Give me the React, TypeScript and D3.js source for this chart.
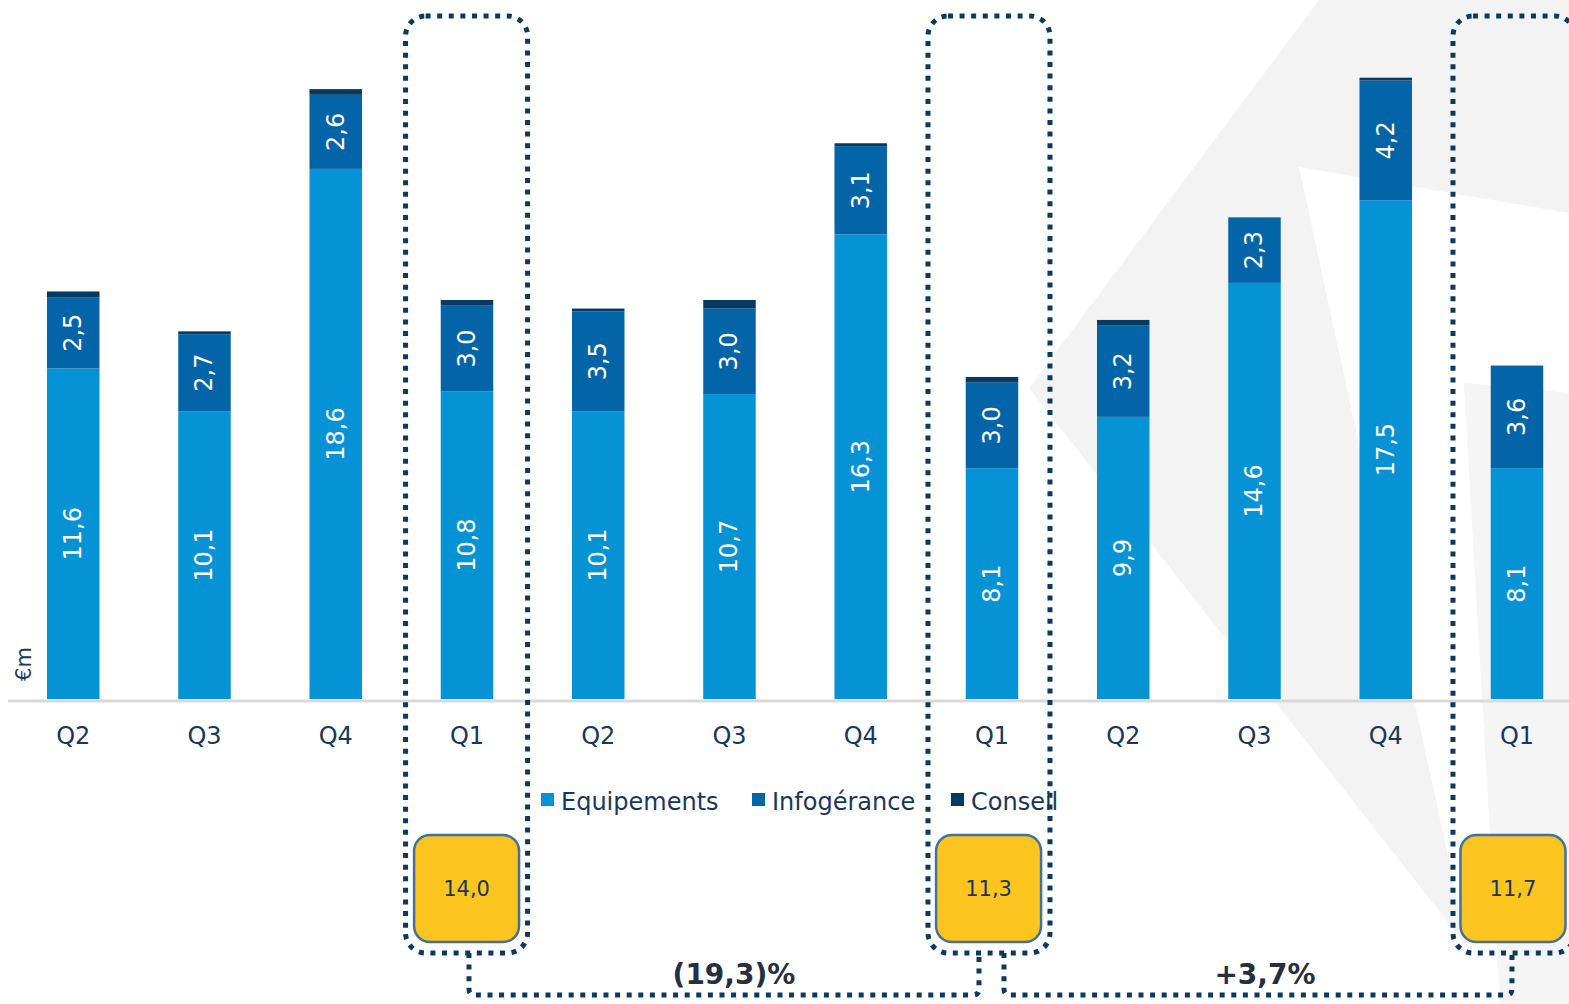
import React from "react";
import * as d3 from "d3";

const quarters = ["Q2", "Q3", "Q4", "Q1", "Q2", "Q3", "Q4", "Q1", "Q2", "Q3", "Q4", "Q1"];
const equipements = [11.6, 10.1, 18.6, 10.8, 10.1, 10.7, 16.3, 8.1, 9.9, 14.6, 17.5, 8.1];
const infogerance = [2.5, 2.7, 2.6, 3.0, 3.5, 3.0, 3.1, 3.0, 3.2, 2.3, 4.2, 3.6];
const conseil = [0.2, 0.1, 0.2, 0.2, 0.1, 0.3, 0.1, 0.2, 0.2, 0.0, 0.1, 0.0];
const seriesNames = ["Equipements", "Infogérance", "Conseil"];
const highlightIdx = [3, 7, 11];
const highlightTotals = [14.0, 11.3, 11.7];
const growthLabels = ["(19,3)%", "+3,7%"];

const W = 1569;
const H = 1004;
const colors = ["#0693d5", "#0364a8", "#063a62"];
const navy = "#17375e";
const dotColor = "#0b3a5e";
const font = "'DejaVu Sans', Verdana, sans-serif";

const fmt = (v: number) => d3.format(".1f")(v).replace(".", ",");

export default function App() {
  const rows = quarters.map((q, i) => ({
    i,
    Equipements: equipements[i],
    "Infogérance": infogerance[i],
    Conseil: conseil[i],
  }));
  const stack = d3.stack<any>().keys(seriesNames)(rows);

  const x = d3
    .scaleBand<number>()
    .domain(quarters.map((_, i) => i))
    .range([7.6, 7.6 + 12 * 131.25])
    .paddingInner(0.6)
    .paddingOuter(0.3);
  const baseline = 699;
  const y = d3.scaleLinear().domain([0, baseline / 28.5]).range([baseline, 0]);
  const bw = x.bandwidth();
  const cx = (i: number) => (x(i) as number) + bw / 2;

  const boxTop = 16;
  const boxBottom = 953;
  const boxHalf = 61;
  const frameShift = [-0.4, -3, -3];
  const yellowShift = [-0.4, -3.4, -4];
  const yBox = { top: 835, bottom: 942, half: 52.5 };
  const bracketY = 995;

  const bracketPath = (a: number, b: number) => {
    const r = 6;
    return `M${a},${boxBottom} L${a},${bracketY - r} Q${a},${bracketY} ${a + r},${bracketY} L${b - r},${bracketY} Q${b},${bracketY} ${b},${bracketY - r} L${b},${boxBottom}`;
  };
  const bracketEnds = [
    [cx(3) + 2, cx(7) - 13],
    [cx(7) + 12, cx(11) - 5],
  ];
  const labelShift = [10, 7];

  return (
    <svg
      width={W}
      height={H}
      style={{ position: "absolute", left: 0, top: 0, background: "#fff" }}
      fontFamily={font}
    >
      <g>
        <polygon points="1029,388 1319,0 1569,0 1569,1004 1512,1004" fill="#f3f3f3" />
        <polygon points="1299,167 1569,213 1569,393 1464,383 1500,1004 1480,1004" fill="#ffffff" />
        <polygon points="1464,383 1569,393 1569,1004 1500,1004" fill="#f5f5f5" />
      </g>

      {stack.map((s, si) => (
        <g key={si} fill={colors[si]}>
          {s.map((d, i) => {
            const y0 = y(d[0]);
            const y1 = y(d[1]);
            if (y0 - y1 <= 0) return null;
            return <rect key={i} x={x(i)} y={y1} width={bw} height={y0 - y1} />;
          })}
        </g>
      ))}

      {stack.slice(0, 2).map((s, si) => (
        <g key={"l" + si}>
          {s.map((d, i) => {
            const v = d[1] - d[0];
            const ym = (y(d[0]) + y(d[1])) / 2;
            return (
              <text
                key={i}
                transform={`translate(${cx(i)},${ym}) rotate(-90)`}
                textAnchor="middle"
                dominantBaseline="central"
                fill="#ffffff"
                fontSize={24}
              >
                {fmt(v)}
              </text>
            );
          })}
        </g>
      ))}

      <line x1={8} x2={W} y1={baseline + 2} y2={baseline + 2} stroke="#d9d9d9" strokeWidth={3} />

      {quarters.map((q, i) => (
        <text key={"q" + i} x={cx(i)} y={744} textAnchor="middle" fill={navy} fontSize={24}>
          {q}
        </text>
      ))}

      <text transform={`translate(31,664) rotate(-90)`} textAnchor="middle" fill={navy} fontSize={21}>
        €m
      </text>

      {seriesNames.map((n, k) => {
        const lx = [541, 752, 951][k];
        return (
          <g key={"lg" + k}>
            <rect x={lx} y={793} width={13} height={13} fill={colors[k]} />
            <text x={lx + 20} y={810} fill={navy} fontSize={24}>
              {n}
            </text>
          </g>
        );
      })}

      {highlightIdx.map((idx, k) => {
        const c = cx(idx) + yellowShift[k];
        return (
          <g key={"yb" + k}>
            <rect
              x={c - yBox.half}
              y={yBox.top}
              width={yBox.half * 2}
              height={yBox.bottom - yBox.top}
              rx={16}
              fill="#fcc41e"
              stroke="#41719c"
              strokeWidth={2.5}
            />
            <text x={c} y={889} textAnchor="middle" dominantBaseline="central" fill={navy} fontSize={21}>
              {fmt(highlightTotals[k])}
            </text>
          </g>
        );
      })}

      {highlightIdx.map((idx, k) => {
        const c = cx(idx) + frameShift[k];
        return (
          <rect
            key={"db" + k}
            x={c - boxHalf}
            y={boxTop}
            width={boxHalf * 2}
            height={boxBottom - boxTop}
            rx={20}
            fill="none"
            stroke={dotColor}
            strokeWidth={5}
            strokeDasharray="5 6.6"
          />
        );
      })}

      {bracketEnds.map(([a, b], k) => (
        <g key={"br" + k}>
          <path d={bracketPath(a, b)} fill="none" stroke={dotColor} strokeWidth={5} strokeDasharray="5 6.6" />
          <text
            x={(a + b) / 2 + labelShift[k]}
            y={984}
            textAnchor="middle"
            fill="#262f3f"
            fontSize={28}
            fontWeight="bold"
          >
            {growthLabels[k]}
          </text>
        </g>
      ))}
    </svg>
  );
}
